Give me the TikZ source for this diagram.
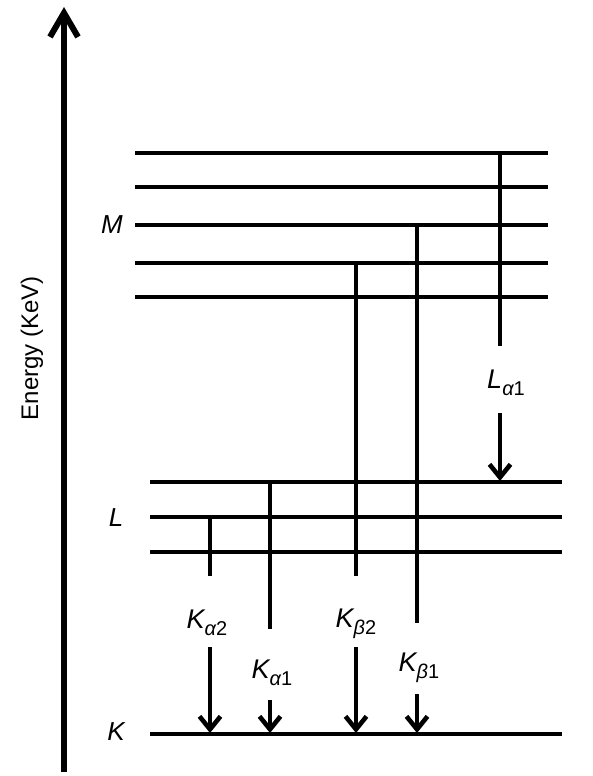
\documentclass[tikz,border=0pt]{standalone}
\usepackage{fontspec}
\setmainfont{Liberation Sans}
\usetikzlibrary{arrows.meta}
\newcommand\lsub[1]{\raisebox{-3.3pt}{\fontsize{10}{12}\selectfont #1}}

\begin{document}
\begin{tikzpicture}[x=0.5pt,y=-0.5pt,font=\fontsize{12}{14}\selectfont,
  level/.style={line width=2.4pt},
  trans/.style={line width=2.3pt},
  emit/.style={line width=2.3pt,-{Straight Barb[length=6.5pt,width=10.5pt]}},
  tlabel/.style={font=\fontsize{13.5}{15}\selectfont\itshape,inner sep=1pt}]
 \useasboundingbox (0,0) rectangle (593,776);
 % energy axis
 \coordinate (e0) at (64,772);
 \coordinate (e1) at (64,7);
 \draw[line width=3pt,-{Straight Barb[length=12pt,width=14pt]}] (e0) -- (e1);
 \node[rotate=90] (energy) at (32,348) {Energy (KeV)};
 % shells
 \foreach \y [count=\i] in {153,187,225,263,297}
  {\draw[level] (135,\y) -- (548,\y);}
 \foreach \y [count=\i] in {482,517,552}
  {\draw[level] (150,\y) -- (562,\y);}
 \draw[level] (150,734) -- (562,734);
 \node[font=\fontsize{13}{15}\selectfont\itshape] (shM) at (112,225) {M};
 \node[font=\fontsize{13}{15}\selectfont\itshape] (shL) at (116,518) {L};
 \node[font=\fontsize{13}{15}\selectfont\itshape] (shK) at (116,732) {K};
 % labels of the lines
 \node[tlabel] (la1) at (506,383) {L\lsub{α\upshape 1}};
 \node[tlabel] (kb1) at (419,668) {K\lsub{β\upshape 1}};
 \node[tlabel] (kb2) at (356,624) {K\lsub{β\upshape 2}};
 \node[tlabel] (ka1) at (272,673) {K\lsub{α\upshape 1}};
 \node[tlabel] (ka2) at (207,623) {K\lsub{α\upshape 2}};
 % start and end points
 \coordinate (la1a) at (500,153); \coordinate (la1b) at (500,346);
 \coordinate (la1c) at (500,413); \coordinate (la1d) at (500,481);
 \coordinate (kb1a) at (417,225); \coordinate (kb1b) at (417,623);
 \coordinate (kb1c) at (417,694); \coordinate (kb1d) at (417,733);
 \coordinate (kb2a) at (356,263); \coordinate (kb2b) at (356,576);
 \coordinate (kb2c) at (356,647); \coordinate (kb2d) at (356,733);
 \coordinate (ka1a) at (270,482); \coordinate (ka1b) at (270,629);
 \coordinate (ka1c) at (270,700); \coordinate (ka1d) at (270,733);
 \coordinate (ka2a) at (210,517); \coordinate (ka2b) at (210,576);
 \coordinate (ka2c) at (210,647); \coordinate (ka2d) at (210,733);
 \foreach \t in {la1,kb1,kb2,ka1,ka2}
  {\draw[trans] (\t a) -- (\t b);
   \draw[emit] (\t c) -- (\t d);}
\end{tikzpicture}
\end{document}
